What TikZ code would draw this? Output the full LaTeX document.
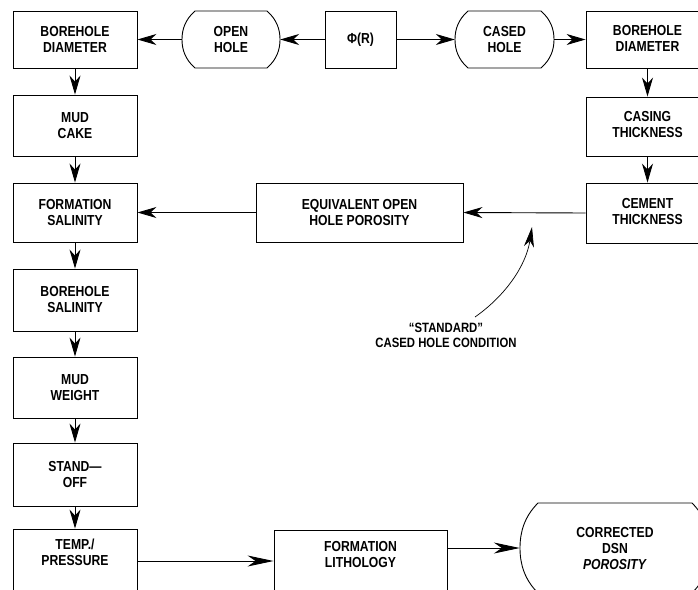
\documentclass[tikz,border=0pt]{standalone}
\usepackage{fontspec}
\setmainfont{Liberation Sans}[FakeStretch=0.84]
\usetikzlibrary{arrows.meta}
\tikzset{
  box/.style={draw, line width=0.9pt, align=center, inner sep=0pt, font=\fontsize{14.5}{16}\selectfont\bfseries},
  blob/.style={align=center, inner sep=0pt, font=\fontsize{14.5}{16}\selectfont\bfseries},
  conn/.style={line width=0.9pt, -{Stealth[length=19pt, width=11pt, inset=6pt]}},
  longconn/.style={line width=0.9pt, -{Stealth[length=26pt, width=11pt, inset=8pt]}},
  shapeline/.style={line width=0.9pt},
  note/.style={align=center, inner sep=0pt, font=\fontsize{13.5}{15}\selectfont\bfseries}
}
\newcommand\barrelpath[5]{%
  \draw[shapeline] ({#1+#5},#3) -- ({#2-#5},#3)
   .. controls ({#2-0.25*#5},{#3+0.15*(#4-#3)}) and (#2,{#3+0.32*(#4-#3)}) .. (#2,{0.5*#3+0.5*#4})
   .. controls (#2,{#3+0.68*(#4-#3)}) and ({#2-0.25*#5},{#3+0.85*(#4-#3)}) .. ({#2-#5},#4)
   -- ({#1+#5},#4)
   .. controls ({#1+0.25*#5},{#3+0.85*(#4-#3)}) and (#1,{#3+0.68*(#4-#3)}) .. (#1,{0.5*#3+0.5*#4})
   .. controls (#1,{#3+0.32*(#4-#3)}) and ({#1+0.25*#5},{#3+0.15*(#4-#3)}) .. ({#1+#5},#3) -- cycle;}
\begin{document}
\begin{tikzpicture}[x=1pt,y=-1pt]
\useasboundingbox (0,0) rectangle (698,589);
\clip (0,0) rectangle (698,589);
% left column
\node[box, minimum width=124pt, minimum height=57pt] (bd1) at (75,39.5) {BOREHOLE\\DIAMETER};
\node[box, minimum width=124pt, minimum height=61pt] (mc) at (75,125.5) {MUD\\CAKE};
\node[box, minimum width=124pt, minimum height=59pt] (fs) at (75,212.5) {FORMATION\\SALINITY};
\node[box, minimum width=124pt, minimum height=62pt] (bs) at (75,300) {BOREHOLE\\SALINITY};
\node[box, minimum width=124pt, minimum height=61pt] (mw) at (75,387.5) {MUD\\WEIGHT};
\node[box, minimum width=124pt, minimum height=63pt] (so) at (75,474.5) {STAND\textemdash\\OFF};
\node[box, minimum width=124pt, minimum height=70pt, text depth=0pt] (tp) at (75,564) {};
\node[blob] at (75,552) {TEMP./\\PRESSURE};
% top row
\node[box, minimum width=71pt, minimum height=57pt] (phi) at (360.5,39.5) {Φ(R)};
\node[blob, minimum width=98pt, minimum height=57pt] (oh) at (231,39.5) {OPEN\\HOLE};
\barrelpath{182}{280}{11}{68}{13}
\node[blob, minimum width=99pt, minimum height=57pt] (ch) at (504.5,39.5) {CASED\\HOLE};
\barrelpath{455}{554}{11}{68}{13}
% right column
\node[box, minimum width=123pt, minimum height=57pt] (bd2) at (647.5,39.5) {};
\node[blob] at (647.5,38) {BOREHOLE\\DIAMETER};
\node[box, minimum width=123pt, minimum height=59pt] (ct) at (647.5,126.5) {};
\node[blob] at (647.5,125) {CASING\\THICKNESS};
\node[box, minimum width=123pt, minimum height=60pt] (cem) at (647.5,213) {};
\node[blob] at (647.5,211.5) {CEMENT\\THICKNESS};
% middle
\node[box, minimum width=207pt, minimum height=59pt] (eq) at (359.5,212.5) {EQUIVALENT OPEN\\HOLE POROSITY};
% bottom
\node[box, minimum width=173pt, minimum height=70pt] (fl) at (360.5,565) {};
\node[blob] at (360.5,554) {FORMATION\\LITHOLOGY};
\node[blob, minimum width=190pt, minimum height=90pt] (dsn) at (615,548) {CORRECTED\\DSN\\\textit{POROSITY}};
\barrelpath{520}{710}{503}{593}{18}
% annotation
\node[note] (std) at (446,335) {``STANDARD''\\CASED HOLE CONDITION};
\coordinate (stdtail) at (475,317);
\coordinate (stdtip) at (532,227);
% connectors
\draw[conn] (phi) -- (oh);
\draw[conn] (oh) -- (bd1);
\draw[conn] (phi) -- (ch);
\draw[conn] (ch) -- (bd2);
\draw[conn] (bd1) -- (mc);
\draw[conn] (mc) -- (fs);
\draw[conn] (fs) -- (bs);
\draw[conn] (bs) -- (mw);
\draw[conn] (mw) -- (so);
\draw[conn] (so) -- (tp);
\draw[conn] (bd2) -- (ct);
\draw[conn] (ct) -- (cem);
\draw[conn] (cem.west) -- (eq.east);
\draw[conn] (eq.west) -- (fs.east);
\draw[longconn] (tp.east |- 0,561) -- (fl.west |- 0,561);
\draw[longconn] (fl.east |- 0,548) -- (dsn.west);
\draw[line width=0.7pt, -{Stealth[length=20pt, width=10pt, inset=6pt]}] (stdtail) .. controls (505,296) and (526,266) .. (stdtip);
\end{tikzpicture}
\end{document}
